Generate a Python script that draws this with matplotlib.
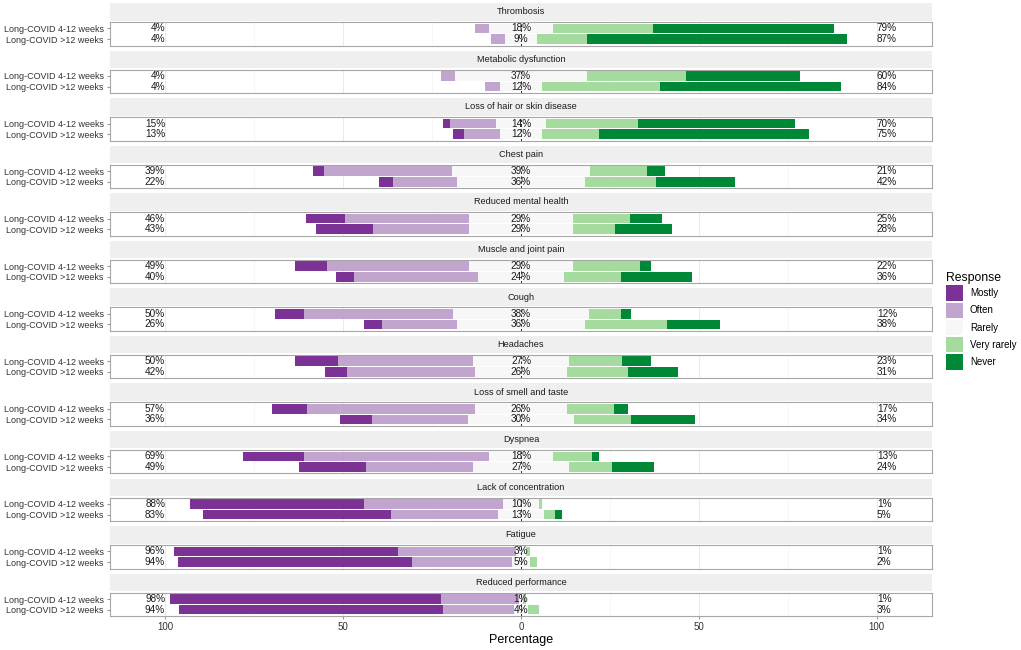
import numpy as np
import matplotlib
matplotlib.use("Agg")
import matplotlib.pyplot as plt
from matplotlib.patches import Patch

plt.rcParams['font.family'] = ['Liberation Sans', 'DejaVu Sans']

categories = ["Thrombosis", "Metabolic dysfunction", "Loss of hair or skin disease",
              "Chest pain", "Reduced mental health", "Muscle and joint pain", "Cough",
              "Headaches", "Loss of smell and taste", "Dyspnea", "Lack of concentration",
              "Fatigue", "Reduced performance"]
groups = ["Long-COVID 4-12 weeks", "Long-COVID >12 weeks"]
responses = ["Mostly", "Often", "Rarely", "Very rarely", "Never"]
colors = ["#7B3294", "#C2A5CF", "#F7F7F7", "#A6DBA0", "#008837"]

# Long-COVID 4-12 weeks (percent)
mostly_a = [0, 0, 2, 3, 11, 9, 8, 12, 10, 17, 49, 63, 76]
often_a = [4, 4, 13, 36, 35, 40, 42, 38, 47, 52, 39, 33, 22]
rarely_a = [18, 37, 14, 39, 29, 29, 38, 27, 26, 18, 10, 3, 1]
vrarely_a = [28, 28, 26, 16, 16, 19, 9, 15, 13, 11, 1, 1, 1]
never_a = [51, 32, 44, 5, 9, 3, 3, 8, 4, 2, 0, 0, 0]

# Long-COVID >12 weeks (percent)
mostly_b = [0, 0, 3, 4, 16, 5, 5, 6, 9, 19, 53, 66, 74]
often_b = [4, 4, 10, 18, 27, 35, 21, 36, 27, 30, 30, 28, 20]
rarely_b = [9, 12, 12, 36, 29, 24, 36, 26, 30, 27, 13, 5, 4]
vrarely_b = [14, 33, 16, 20, 12, 16, 23, 17, 16, 12, 3, 2, 3]
never_b = [73, 51, 59, 22, 16, 20, 15, 14, 18, 12, 2, 0, 0]

data = {
    groups[0]: np.array([mostly_a, often_a, rarely_a, vrarely_a, never_a], dtype=float),
    groups[1]: np.array([mostly_b, often_b, rarely_b, vrarely_b, never_b], dtype=float),
}

W, H = 1021, 650
fig = plt.figure(figsize=(W / 100, H / 100), dpi=100)

left_px, right_px = 110, 932
top0, period = 3, 47.55
strip_h, gap, panel_h = 17.5, 1.5, 23.5
txt_col = "#333333"

for k, cat in enumerate(categories):
    y_strip = top0 + k * period
    sax = fig.add_axes([left_px / W, 1 - (y_strip + strip_h) / H,
                        (right_px - left_px) / W, strip_h / H])
    sax.set_facecolor("#EFEFEF")
    for s in sax.spines.values():
        s.set_visible(False)
    sax.set_xticks([])
    sax.set_yticks([])
    sax.text(0.5, 0.5, cat, ha="center", va="center", fontsize=6.6, color="#1A1A1A",
             transform=sax.transAxes)

    y_panel = y_strip + strip_h + gap
    ax = fig.add_axes([left_px / W, 1 - (y_panel + panel_h) / H,
                       (right_px - left_px) / W, panel_h / H])
    ax.set_xlim(-115.5, 115.5)
    ax.set_ylim(0.4, 2.6)
    for gx in [-100, -50, 0, 50, 100]:
        ax.axvline(gx, color="#E6E6E6", lw=0.6, zorder=0)
    for gx in [-75, -25, 25, 75]:
        ax.axvline(gx, color="#EFEFEF", lw=0.4, zorder=0)

    for yv, g in zip([2, 1], groups):
        m, o, r, vr, nv = data[g][:, k]
        lefts = [-r / 2 - o - m, -r / 2 - o, -r / 2, r / 2, r / 2 + vr]
        widths = [m, o, r, vr, nv]
        for lf, wd, c in zip(lefts, widths, colors):
            if wd > 0:
                ax.barh(yv, wd, left=lf, height=0.9, color=c, edgecolor="none", zorder=2)
        ax.text(-100, yv, f"{m + o:.0f}%", ha="right", va="center", fontsize=7.2,
                color="#1A1A1A", zorder=4)
        ax.text(0, yv, f"{r:.0f}%", ha="center", va="center", fontsize=7.2,
                color="#1A1A1A", zorder=4)
        ax.text(100, yv, f"{vr + nv:.0f}%", ha="left", va="center", fontsize=7.2,
                color="#1A1A1A", zorder=4)

    ax.axvline(0, color="#222222", lw=0.7, ls=(0, (2.5, 2.5)), zorder=5)

    ax.set_yticks([2, 1])
    ax.set_yticklabels(groups, fontsize=6.5, color=txt_col)
    ax.tick_params(axis="y", length=2, color="#999999", pad=2.5)
    for s in ax.spines.values():
        s.set_color("#A6A6A6")
        s.set_linewidth(0.8)

    if k == len(categories) - 1:
        ticks = [-100, -50, 0, 50, 100]
        ax.set_xticks(ticks)
        ax.set_xticklabels([str(abs(t)) for t in ticks], fontsize=7, color=txt_col)
        ax.tick_params(axis="x", length=2, color="#999999", pad=2)
        ax.set_xlabel("Percentage", fontsize=9, color="black", labelpad=2)
    else:
        ax.set_xticks([])

handles = [Patch(facecolor=c, edgecolor="none", label=r) for c, r in zip(colors, responses)]
leg = fig.legend(handles=handles, title="Response", loc="upper left",
                 bbox_to_anchor=(946 / W, 1 - 272 / H), frameon=False, fontsize=7,
                 title_fontsize=8.8, handlelength=1.75, handleheight=2.1,
                 labelspacing=0.15, handletextpad=0.7, borderpad=0, borderaxespad=0)
leg._legend_box.align = "left"

fig.savefig("out.png", dpi=100)
